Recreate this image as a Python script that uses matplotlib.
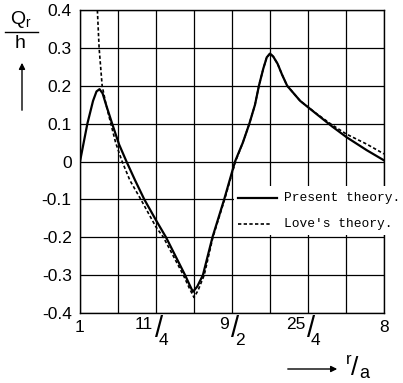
import matplotlib
matplotlib.use('Agg')
import matplotlib.pyplot as plt
from matplotlib.patches import Rectangle
from matplotlib.lines import Line2D

plt.rcParams['font.family'] = ['Liberation Sans', 'DejaVu Sans']
plt.rcParams['mathtext.fontset'] = 'custom'
plt.rcParams['mathtext.rm'] = 'Liberation Sans'
plt.rcParams['mathtext.it'] = 'Liberation Sans'

# data: r/a and Q_r/h
present_x = [1.0, 1.17, 1.30, 1.38, 1.45, 1.52, 1.60, 1.74, 1.90, 2.07, 2.27, 2.48,
             2.75, 2.98, 3.20, 3.42, 3.52, 3.60, 3.70, 3.83, 4.05, 4.32, 4.57,
             4.75, 4.90, 5.03, 5.12, 5.22, 5.30, 5.375, 5.45, 5.55, 5.65,
             5.77, 6.07, 6.45, 6.80, 7.14, 7.60, 8.0]
present_y = [0.0, 0.10, 0.16, 0.185, 0.191, 0.18, 0.15, 0.10, 0.045, 0.0, -0.05, -0.10,
             -0.155, -0.20, -0.25, -0.30, -0.325, -0.344, -0.33, -0.30, -0.20, -0.10, 0.0,
             0.05, 0.10, 0.15, 0.20, 0.245, 0.275, 0.285, 0.277, 0.258, 0.23,
             0.20, 0.16, 0.125, 0.093, 0.064, 0.03, 0.003]

love_x = [1.36, 1.40, 1.44, 1.51, 1.60, 1.71, 1.82, 1.97, 2.15, 2.40, 2.75, 2.92,
          3.15, 3.38, 3.52, 3.625, 3.72, 3.86, 4.06, 4.33, 4.58,
          4.75, 4.90, 5.03, 5.12, 5.22, 5.30, 5.375, 5.45, 5.55, 5.65,
          5.77, 6.07, 6.45, 6.80, 7.14, 7.60, 8.0]
love_y = [0.45, 0.40, 0.30, 0.20, 0.15, 0.10, 0.05, 0.0, -0.05, -0.10, -0.173, -0.20,
          -0.25, -0.30, -0.335, -0.359, -0.34, -0.30, -0.20, -0.10, 0.0,
          0.05, 0.10, 0.15, 0.20, 0.245, 0.275, 0.285, 0.277, 0.258, 0.23,
          0.20, 0.16, 0.126, 0.097, 0.072, 0.046, 0.02]

x_grid = [1 + 0.875 * i for i in range(9)]
y_ticks = [-0.4, -0.3, -0.2, -0.1, 0.0, 0.1, 0.2, 0.3, 0.4]
y_labels = ['-0.4', '-0.3', '-0.2', '-0.1', '0', '0.1', '0.2', '0.3', '0.4']
x_frac = [(2.75, '11', '4'), (4.5, '9', '2'), (6.25, '25', '4')]
x_plain = [(1.0, '1'), (8.0, '8')]

W, H = 403, 383
def fx(px):
    return px / W
def fy(py):
    return 1 - py / H

f = plt.figure(figsize=(W / 100, H / 100), dpi=100)
ax = f.add_axes([fx(80), fy(313), 304 / W, 303 / H])

ax.plot(present_x, present_y, color='black', lw=1.6, zorder=3)
ax.plot(love_x, love_y, color='black', lw=1.2, ls=(0, (2, 1.4)), zorder=3)

ax.set_xlim(1, 8)
ax.set_ylim(-0.4, 0.4)
ax.set_xticks(x_grid)
ax.set_xticklabels([])
ax.set_yticks(y_ticks)
ax.set_yticklabels(y_labels, fontsize=12.5)
ax.tick_params(length=0, pad=6)
ax.grid(True, color='black', lw=0.9)
for s in ax.spines.values():
    s.set_linewidth(1.0)

# x tick labels, fractions written with a slash
tr = ax.get_xaxis_transform()
for xv, t in x_plain:
    ax.annotate(t, xy=(xv, 0), xycoords=tr, xytext=(0, -5), textcoords='offset points',
                ha='center', va='top', fontsize=12.5)
for xv, num, den in x_frac:
    ax.annotate(num, xy=(xv, 0), xycoords=tr, xytext=(-2, -3), textcoords='offset points',
                ha='right', va='top', fontsize=12.5)
    ax.annotate('/', xy=(xv, 0), xycoords=tr, xytext=(2, -1.5), textcoords='offset points',
                ha='center', va='top', fontsize=21)
    ax.annotate(den, xy=(xv, 0), xycoords=tr, xytext=(2, -25), textcoords='offset points',
                ha='left', va='bottom', fontsize=12.5)

# y axis label  Q_r / h  with arrow
f.text(fx(21), fy(19), r'$\mathrm{Q_r}$', ha='center', va='center', fontsize=14)
f.add_artist(Line2D([fx(5), fx(38)], [fy(32), fy(32)], color='black', lw=1.0))
f.text(fx(20), fy(44), 'h', ha='center', va='center', fontsize=14)
f.add_artist(plt.Annotation('', xy=(fx(22), fy(60)), xycoords='figure fraction',
                            xytext=(fx(22), fy(113)), textcoords='figure fraction',
                            arrowprops=dict(arrowstyle='-|>', color='black', lw=1.0,
                                            mutation_scale=9)))

# x axis label  r/a  with arrow
f.add_artist(plt.Annotation('', xy=(fx(340), fy(369)), xycoords='figure fraction',
                            xytext=(fx(285), fy(369)), textcoords='figure fraction',
                            arrowprops=dict(arrowstyle='-|>', color='black', lw=1.0,
                                            mutation_scale=9)))
f.text(fx(349), fy(360), 'r', ha='center', va='center', fontsize=12)
f.text(fx(355), fy(368), '/', ha='center', va='center', fontsize=19)
f.text(fx(364), fy(374), 'a', ha='center', va='center', fontsize=13)

# legend
f.add_artist(Rectangle((fx(234), fy(235)), fx(403) - fx(234), fy(186) - fy(235),
                       transform=f.transFigure, facecolor='white', edgecolor='none', zorder=4))
f.add_artist(Line2D([fx(238), fx(277)], [fy(198), fy(198)], color='black', lw=1.6, zorder=5))
f.add_artist(Line2D([fx(238), fx(272)], [fy(224), fy(224)], color='black', lw=1.2,
                    ls=(0, (2, 1.4)), zorder=5))
f.text(fx(284), fy(198), 'Present theory.', family='Liberation Mono', fontsize=9.3,
       va='center', ha='left', zorder=6)
f.text(fx(284), fy(224), "Love's theory.", family='Liberation Mono', fontsize=9.3,
       va='center', ha='left', zorder=6)

plt.savefig('out.png', dpi=100)
